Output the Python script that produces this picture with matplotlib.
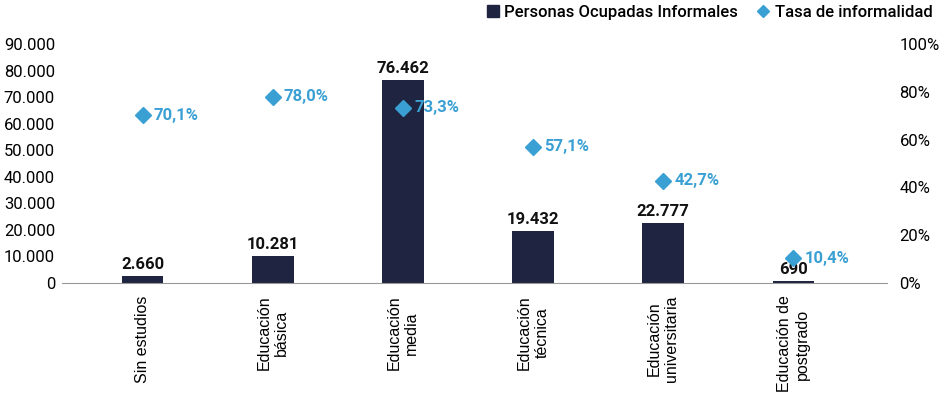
import numpy as np
import matplotlib.pyplot as plt
from matplotlib.lines import Line2D

# data
categorias = ['Sin estudios', 'Educación\nbásica', 'Educación\nmedia',
              'Educación\ntécnica', 'Educación\nuniversitaria', 'Educación de\npostgrado']
ocupados = [2660, 10281, 76462, 19432, 22777, 690]
tasa = [70.1, 78.0, 73.3, 57.1, 42.7, 10.4]

navy = '#1f2440'
blue = '#3aa0d3'

plt.rcParams['font.family'] = ['Roboto', 'DejaVu Sans']

fig = plt.figure(figsize=(9.43, 3.94), dpi=100)
ax = fig.add_axes([0.0657, 0.2817, 0.875, 0.6066])
ax2 = ax.twinx()

x = np.arange(len(categorias))
ax.bar(x, ocupados, width=0.32, color=navy, zorder=2)
ax.set_ylim(0, 90000)
ax.set_xlim(-0.62, 5.72)
ax.set_yticks(np.arange(0, 90001, 10000))
ax.set_yticklabels([f'{v:,.0f}'.replace(',', '.') for v in np.arange(0, 90001, 10000)],
                   fontsize=12)

for xi, v in zip(x, ocupados):
    ax.text(xi, v + 1500, f'{v:,}'.replace(',', '.'), ha='center', va='bottom',
            fontsize=12, fontweight='bold', color='#111111')

ax2.plot(x, tasa, linestyle='none', marker='D', markersize=8.5, color=blue, zorder=3)
ax2.set_ylim(0, 100)
ax2.set_yticks(np.arange(0, 101, 20))
ax2.set_yticklabels([f'{v}%' for v in range(0, 101, 20)], fontsize=12)
for xi, t in zip(x, tasa):
    ax2.annotate(f'{t:.1f}%'.replace('.', ','), (xi, t), xytext=(8, 0),
                 textcoords='offset points', ha='left', va='center',
                 fontsize=12, fontweight='bold', color=blue)

ax.set_xticks(x)
ax.set_xticklabels(categorias, rotation=90, fontsize=11.5, ha='center', va='top',
                   family='Liberation Sans', multialignment='center')

for a in (ax, ax2):
    for s in ('top', 'left', 'right', 'bottom'):
        a.spines[s].set_visible(False)
    a.tick_params(length=0)
ax.spines['bottom'].set_visible(True)
ax.spines['bottom'].set_color('#999999')
ax.tick_params(axis='x', pad=9)
ax.tick_params(axis='y', pad=5)
ax2.tick_params(axis='y', pad=9)

handles = [Line2D([], [], linestyle='none', marker='s', markersize=8, color=navy),
           Line2D([], [], linestyle='none', marker='D', markersize=6, color=blue)]
fig.legend(handles, ['Personas Ocupadas Informales', 'Tasa de informalidad'],
           loc='upper right', bbox_to_anchor=(1.005, 1.025), ncol=2, frameon=False,
           prop={'size': 12, 'weight': 'medium'}, handletextpad=0.2,
           columnspacing=1.0, handlelength=1.0)

fig.savefig('out.png', dpi=100)
